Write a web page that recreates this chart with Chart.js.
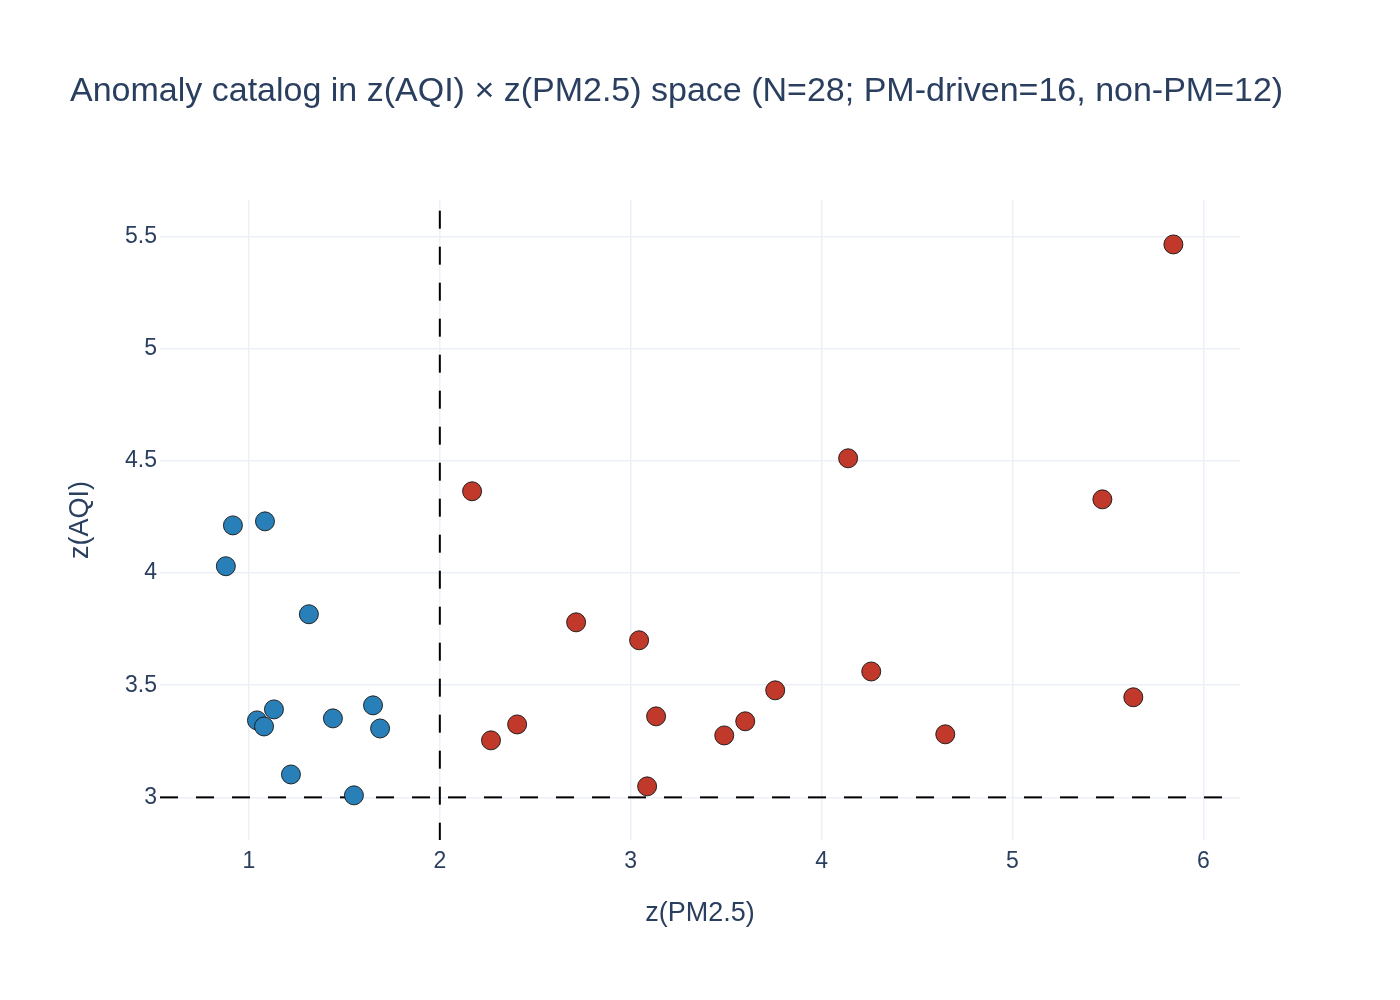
<!DOCTYPE html>
<html>
<head>
<meta charset="utf-8">
<script src="https://cdn.jsdelivr.net/npm/chart.js@4.4.1/dist/chart.umd.min.js"></script>
<style>
  html, body { margin: 0; padding: 0; background: #fff; }
  #wrap { width: 1400px; height: 1000px; position: relative; }
</style>
</head>
<body>
<div id="wrap"><canvas id="chart" width="1400" height="1000"></canvas></div>
<script>
// non-PM anomalies (blue)
const nonPmX = [0.916, 1.084, 0.879, 1.314, 1.131, 1.042, 1.079, 1.440, 1.650, 1.687, 1.220, 1.550];
const nonPmY = [4.212, 4.230, 4.030, 3.816, 3.392, 3.343, 3.316, 3.352, 3.410, 3.307, 3.102, 3.009];

// PM-driven anomalies (red)
const pmX = [2.169, 2.714, 3.044, 4.139, 5.471, 5.843, 4.260, 3.757, 5.633, 3.133, 3.600, 3.490, 4.648, 2.405, 2.268, 3.086];
const pmY = [4.364, 3.780, 3.700, 4.511, 4.328, 5.464, 3.561, 3.477, 3.446, 3.361, 3.339, 3.276, 3.281, 3.325, 3.254, 3.049];

// threshold lines
const hLineX = [0.534, 6.1];
const hLineY = [3, 3];
const vLineX = [2, 2];
const vLineY = [2.807, 5.62];

const xTicks = [1, 2, 3, 4, 5, 6];
const yTicks = [3, 3.5, 4, 4.5, 5, 5.5];

const TXT = '#2a3f5f';
const GRID = '#ebf0f8';
const FONT = "'Liberation Sans', Arial, sans-serif";

const pts = (xs, ys) => xs.map((x, i) => ({ x, y: ys[i] }));

const titlePlugin = {
    id: 'plotTitle',
    afterDraw(chart) {
        const c = chart.ctx;
        c.save();
        c.font = `34px ${FONT}`;
        c.fillStyle = TXT;
        c.textBaseline = 'alphabetic';
        c.textAlign = 'left';
        c.fillText('Anomaly catalog in z(AQI) × z(PM2.5) space (N=28; PM-driven=16, non-PM=12)', 70, 101);
        c.restore();
    }
};

const pointStyle = (color) => ({
    type: 'scatter',
    backgroundColor: color,
    borderColor: 'rgba(20,20,20,0.9)',
    borderWidth: 1,
    pointRadius: 9.5,
    showLine: false,
    order: 1,
});

const lineStyle = {
    type: 'line',
    borderColor: '#000',
    borderWidth: 2,
    borderDash: [18, 18],
    pointRadius: 0,
    showLine: true,
    fill: false,
    order: 2,
};

new Chart(document.getElementById('chart'), {
    type: 'scatter',
    data: {
        datasets: [
            { label: 'x=2', data: pts(vLineX, vLineY), ...lineStyle },
            { label: 'y=3', data: pts(hLineX, hLineY), ...lineStyle },
            { label: 'PM-driven', data: pts(pmX, pmY), ...pointStyle('#c0392b') },
            { label: 'non-PM', data: pts(nonPmX, nonPmY), ...pointStyle('#2980b9') },
        ]
    },
    options: {
        responsive: false,
        animation: false,
        events: [],
        layout: { padding: { top: 200, right: 160, bottom: 0, left: 0 } },
        plugins: { legend: { display: false }, title: { display: false }, tooltip: { enabled: false } },
        scales: {
            x: {
                type: 'linear', min: 0.534, max: 6.192,
                afterBuildTicks: (s) => { s.ticks = xTicks.map(v => ({ value: v })); },
                afterFit: (s) => { s.height = 160; },
                grid: { color: GRID, lineWidth: 1.5, drawTicks: false },
                border: { display: false },
                ticks: { color: TXT, font: { family: FONT, size: 23 }, padding: 8, callback: (v) => String(v) },
                title: { display: true, text: 'z(PM2.5)', color: TXT, font: { family: FONT, size: 27 }, padding: { top: 0, bottom: 70 } }
            },
            y: {
                type: 'linear', min: 2.81, max: 5.662,
                afterBuildTicks: (s) => { s.ticks = yTicks.map(v => ({ value: v })); },
                afterFit: (s) => { s.width = 160; },
                grid: { color: GRID, lineWidth: 1.5, drawTicks: false },
                border: { display: false },
                ticks: { color: TXT, font: { family: FONT, size: 23 }, padding: 3, callback: (v) => String(v) },
                title: { display: true, text: 'z(AQI)', color: TXT, font: { family: FONT, size: 27 }, padding: { top: 64, bottom: 0 } }
            }
        }
    },
    plugins: [titlePlugin]
});
</script>
</body>
</html>
